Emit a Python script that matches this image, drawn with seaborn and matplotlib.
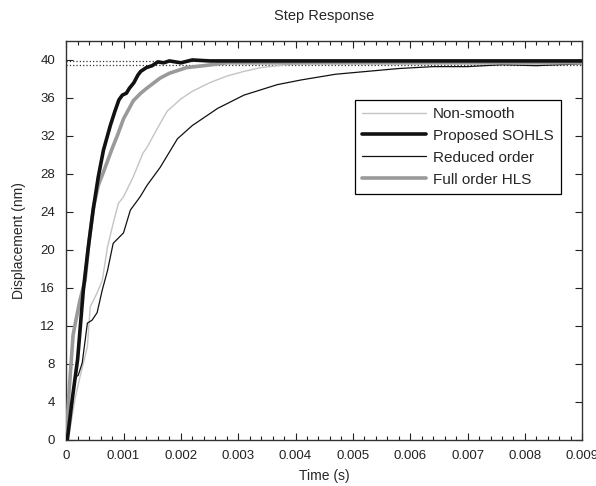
import matplotlib
matplotlib.use("Agg")
import matplotlib.pyplot as plt
import numpy as np
import pandas as pd
import seaborn as sns
from matplotlib.ticker import MultipleLocator, FormatStrFormatter

# ─── data ────────────────────────────────────────────────────────────────────

t_nonsmooth = [0, 0.00005, 0.00016, 0.00024, 0.00037, 0.00042, 0.00054, 0.00063,
               0.00072, 0.00082, 0.00091, 0.001, 0.00117, 0.00134, 0.00141,
               0.0016, 0.00176, 0.002, 0.0022, 0.0025, 0.0028, 0.0031, 0.0034,
               0.0037, 0.004, 0.0045, 0.005, 0.006, 0.007, 0.009]
y_nonsmooth = [0, 0.5, 4.5, 6.6, 9.8, 14.0, 15.5, 16.8, 20.3, 22.8, 24.9, 25.6,
               27.7, 30.2, 30.8, 32.9, 34.6, 35.9, 36.7, 37.6, 38.3, 38.8, 39.2,
               39.4, 39.6, 39.7, 39.7, 39.7, 39.7, 39.7]

t_sohls = [0, 0.00002, 0.0001, 0.0002, 0.0003, 0.00038, 0.00047, 0.00056,
           0.00065, 0.00077, 0.00085, 0.00092, 0.00098, 0.00105, 0.0011,
           0.00118, 0.00125, 0.0013, 0.0014, 0.0015, 0.0016, 0.0017, 0.0018,
           0.002, 0.0022, 0.0025, 0.003, 0.004, 0.006, 0.009]
y_sohls = [0, 0, 4.0, 8.5, 15.8, 20.0, 24.2, 27.7, 30.5, 33.1, 34.6, 35.8, 36.3,
           36.5, 37.0, 37.6, 38.4, 38.8, 39.2, 39.4, 39.8, 39.7, 39.9, 39.7,
           40.0, 39.9, 39.9, 39.9, 39.9, 39.9]

t_reduced = [0, 0.00016, 0.00021, 0.00028, 0.00037, 0.00045, 0.00054, 0.00063,
             0.00072, 0.00082, 0.001, 0.00112, 0.00129, 0.00141, 0.00164,
             0.00194, 0.0022, 0.00264, 0.0031, 0.00368, 0.0041, 0.00470,
             0.00525, 0.0058, 0.0064, 0.0070, 0.0076, 0.0082, 0.009]
y_reduced = [0, 6.6, 6.8, 8.1, 12.3, 12.6, 13.4, 15.8, 17.8, 20.7, 21.8, 24.2,
             25.6, 26.8, 28.7, 31.7, 33.1, 34.9, 36.3, 37.4, 37.9, 38.5, 38.8,
             39.1, 39.3, 39.3, 39.5, 39.4, 39.6]

t_full = [0, 0.00005, 0.00012, 0.00016, 0.00024, 0.00033, 0.0004, 0.00048,
          0.00056, 0.00065, 0.00073, 0.00081, 0.00089, 0.001, 0.00117, 0.0013,
          0.0014, 0.00164, 0.0018, 0.0021, 0.0024, 0.0028, 0.0032, 0.004,
          0.005, 0.009]
y_full = [0, 5.0, 11.0, 12.3, 14.7, 16.8, 21.0, 24.6, 26.8, 28.2, 29.5, 30.8,
          32.0, 33.8, 35.7, 36.5, 37.0, 38.1, 38.6, 39.2, 39.4, 39.7, 39.7,
          39.7, 39.7, 39.7]

series = ["Non-smooth", "Proposed SOHLS", "Reduced order", "Full order HLS"]
steady_lines = [39.9, 39.5]

# ─── style ──────────────────────────────────────────────────────────────────

sns.set_style("ticks")
plt.rcParams["font.family"] = ["Liberation Sans", "DejaVu Sans"]

look = {
    "Non-smooth":     dict(color="#c4c4c4", lw=1.0, z=3),
    "Proposed SOHLS": dict(color="#111111", lw=2.6, z=5),
    "Reduced order":  dict(color="#111111", lw=0.9, z=3),
    "Full order HLS": dict(color="#9a9a9a", lw=2.6, z=4),
}
curves = {
    "Non-smooth": (t_nonsmooth, y_nonsmooth),
    "Proposed SOHLS": (t_sohls, y_sohls),
    "Reduced order": (t_reduced, y_reduced),
    "Full order HLS": (t_full, y_full),
}

fig = plt.figure(figsize=(5.96, 4.86), dpi=100)
ax = fig.add_axes([0.111, 0.0947, 0.866, 0.821])

for y0 in steady_lines:
    ax.axhline(y0, color="#333333", ls=":", lw=0.9, zorder=1)

for name in series:
    t, y = curves[name]
    df = pd.DataFrame({"t": t, "y": y})
    st = look[name]
    sns.lineplot(data=df, x="t", y="y", ax=ax, color=st["color"],
                 linewidth=st["lw"], label=name, zorder=st["z"], sort=False)

ax.set_xlim(0, 0.009)
ax.set_ylim(0, 42)
ax.xaxis.set_major_locator(MultipleLocator(0.001))
ax.xaxis.set_minor_locator(MultipleLocator(0.0002))
ax.xaxis.set_major_formatter(FormatStrFormatter("%g"))
ax.yaxis.set_major_locator(MultipleLocator(4))
ax.tick_params(which="both", direction="in", top=True, right=True,
               labelsize=9.5, colors="#222222", width=0.8)
ax.tick_params(which="major", length=5)
ax.tick_params(which="minor", length=3)
ax.tick_params(axis="y", pad=8)
ax.tick_params(axis="x", pad=7)
for sp in ax.spines.values():
    sp.set_color("#333333")
    sp.set_linewidth(1.0)

ax.set_xlabel("Time (s)", fontsize=10, labelpad=5)
ax.set_ylabel("Displacement (nm)", fontsize=10, labelpad=10)
ax.set_title("Step Response", fontsize=10.5, pad=15)

leg = ax.legend(loc="upper right", bbox_to_anchor=(0.958, 0.852),
                fontsize=11, frameon=True, fancybox=False, framealpha=1,
                edgecolor="black", handlelength=4.2, labelspacing=0.52,
                borderpad=0.45, handletextpad=0.45, borderaxespad=0)
leg.get_frame().set_linewidth(0.9)

fig.savefig("out.png", dpi=100)
